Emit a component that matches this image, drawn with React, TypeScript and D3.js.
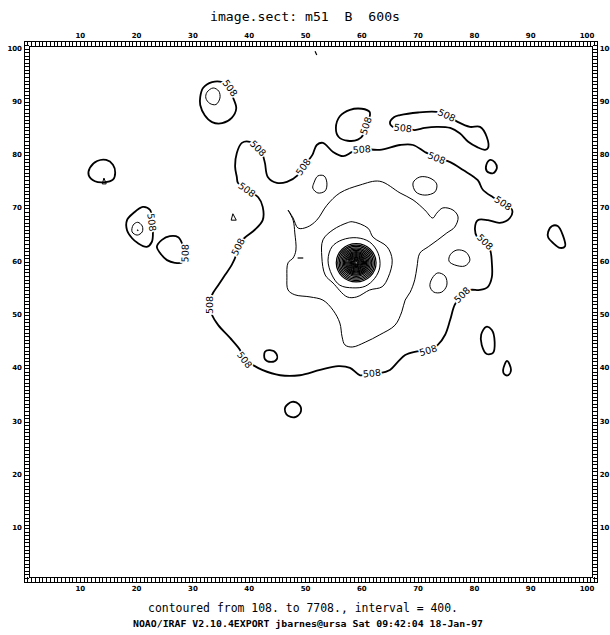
import React from "react";
import * as d3 from "d3";

const W = 610;
const H = 635;

const title = "image.sect: m51  B  600s";
const footer1 = "contoured from 108. to 7708., interval = 400.";
const footer2 = "NOAO/IRAF V2.10.4EXPORT jbarnes@ursa Sat 09:42:04 18-Jan-97";
const tickValues = [10, 20, 30, 40, 50, 60, 70, 80, 90, 100];
const levelLabel = "508";

// contour points in image pixels [col, row, hasLabel]
const outer508 = [
  [42.4, 67.7], [42.4, 70.2], [41.6, 72.0], [39.6, 73.4, 1], [38.0, 74.7], [37.8, 75.8],
  [37.5, 77.7], [37.8, 80.3], [38.7, 82.2], [40.1, 82.4], [41.6, 81.2, 1], [42.4, 79.9],
  [42.8, 78.4], [43.3, 75.8], [44.9, 74.7], [46.7, 74.9], [48.7, 76.2], [49.6, 77.7, 1],
  [51.2, 79.9], [52.0, 81.8], [53.1, 82.2], [54.9, 80.5], [56.7, 79.7], [58.3, 80.5],
  [60.0, 81.0, 1], [63.2, 80.9], [66.8, 81.8], [69.1, 81.8], [71.2, 80.5], [73.3, 79.4, 1],
  [75.7, 78.6], [78.0, 77.1], [80.6, 75.2], [81.5, 73.4], [83.3, 72.0], [85.1, 70.9, 1],
  [86.7, 69.6], [86.3, 68.1], [84.5, 67.2], [82.4, 67.7], [80.6, 67.7], [80.1, 66.2],
  [80.5, 64.5], [81.9, 63.6, 1], [82.8, 62.1], [83.1, 59.7], [83.1, 57.0], [82.4, 55.2],
  [81.0, 54.6], [79.2, 54.6], [77.8, 53.7, 1], [76.5, 51.8], [75.7, 49.0], [74.8, 46.2],
  [73.5, 44.3], [71.8, 43.3, 1], [69.4, 43.0], [67.7, 42.4], [66.4, 41.1], [65.0, 39.6],
  [63.2, 39.0], [61.8, 39.0, 1], [59.7, 38.6], [57.9, 40.0], [55.8, 40.3], [52.6, 39.6],
  [49.0, 38.6], [45.5, 38.6], [42.3, 39.6], [40.1, 40.9], [39.2, 41.5, 1], [38.4, 43.3],
  [36.6, 45.6], [34.5, 48.0], [33.4, 49.9], [33.0, 51.8, 1], [33.4, 53.7], [34.5, 55.5],
  [35.7, 57.4], [36.9, 59.3], [37.7, 61.2], [38.0, 62.7, 1], [39.2, 64.4], [41.0, 65.9],
];

const top508 = [
  [65.0, 85.9], [65.7, 87.0], [66.8, 87.4], [70.0, 87.9],
  [73.3, 88.0], [75.1, 87.4, 1], [77.1, 86.1], [79.2, 85.2], [81.0, 85.2], [82.2, 83.3],
  [82.4, 81.2], [81.9, 80.9], [80.5, 81.4], [78.9, 82.4], [77.4, 84.0], [75.7, 85.0],
  [73.3, 85.2], [71.2, 85.0], [69.4, 84.6], [67.3, 85.0, 1], [65.9, 85.0],
];
const topLeft508 = [
  [55.4, 85.0], [56.1, 87.2], [57.9, 88.4], [60.0, 88.6], [61.4, 88.0], [61.3, 86.7],
  [60.7, 85.4, 1], [60.4, 83.9], [59.3, 82.8], [57.5, 82.6], [55.9, 83.3],
];

const island508A = [
  [31.3, 90.8], [31.8, 92.5], [33.4, 93.6], [35.2, 93.6], [36.6, 92.5, 1], [37.1, 90.8],
  [37.7, 88.7], [36.9, 86.9], [35.2, 85.9], [33.4, 86.1], [32.1, 87.4], [31.3, 89.3],
];
const island508B = [
  [11.7, 77.5], [13.0, 78.8], [14.6, 79.0], [15.8, 78.1], [16.2, 76.6], [15.8, 75.3],
  [14.2, 74.8], [12.6, 75.0], [11.5, 76.1],
];
const island508C = [
  [19.4, 69.0], [21.1, 70.2], [22.4, 69.6], [22.7, 67.3, 1], [22.9, 65.5], [22.7, 63.6],
  [21.8, 62.7], [20.2, 63.4], [19.2, 64.3], [18.3, 65.8], [18.3, 67.7],
];
const island508D = [
  [24.5, 64.0], [25.9, 64.7], [27.4, 64.5], [28.2, 63.0], [28.6, 61.5, 1], [28.1, 59.8],
  [26.8, 59.7], [25.4, 60.2], [24.2, 61.5], [23.6, 62.7],
];
const island508E = [[82.1, 78.0], [82.8, 79.0], [83.6, 78.6], [84.0, 77.5], [83.3, 76.5], [82.2, 76.9]];
const island508F = [
  [93.1, 65.5], [93.8, 66.6], [94.8, 66.6], [95.7, 64.9], [96.1, 62.8], [95.2, 62.5],
  [94.0, 63.4], [93.1, 64.5],
];
const island508G = [[42.8, 43.0], [43.7, 43.3], [44.8, 42.7], [44.9, 41.6], [43.9, 41.1], [42.8, 41.6]];
const island508H = [[46.4, 32.6], [47.6, 33.6], [48.8, 33.2], [49.2, 31.9], [48.3, 30.8], [46.9, 31.0], [46.4, 31.7]];
const island508I = [[81.2, 46.2], [82.1, 47.7], [83.1, 47.1], [83.6, 44.8], [83.3, 42.8], [82.2, 42.6], [81.3, 44.3]];
const island508J = [[85.1, 39.6], [85.8, 41.3], [86.5, 39.6], [86.0, 38.6], [85.3, 38.8]];

const main908 = [
  [46.9, 69.6], [47.8, 67.7], [48.1, 65.3], [48.3, 62.1], [47.8, 60.6], [46.9, 59.7],
  [46.7, 57.0], [46.9, 54.6], [48.1, 53.7], [50.8, 53.3], [53.1, 52.7], [54.9, 50.8],
  [56.1, 48.4], [56.5, 45.8], [57.0, 44.3], [58.3, 43.9], [60.6, 44.8], [63.2, 46.2],
  [65.9, 48.0], [67.1, 50.5], [67.7, 52.7], [68.6, 54.2], [69.4, 56.5], [69.8, 58.9],
  [70.3, 61.5], [71.8, 62.7], [73.5, 64.0], [75.1, 65.3], [76.5, 66.4], [77.1, 68.3],
  [76.2, 69.6], [74.4, 70.0], [73.3, 69.0], [72.6, 68.1], [71.2, 69.6], [69.1, 71.5],
  [66.8, 72.8], [63.2, 75.0], [59.7, 74.3], [56.1, 72.8], [53.8, 70.5], [52.0, 67.7],
  [50.3, 66.4], [48.7, 66.2], [47.8, 68.1],
];
const island908A = [[51.5, 74.7], [52.2, 76.0], [53.3, 76.0], [53.8, 74.7], [53.5, 73.2], [52.2, 72.8], [51.3, 73.7]];
const island908B = [[69.1, 74.7], [70.3, 75.8], [72.1, 75.6], [73.3, 74.5], [73.0, 73.0], [71.2, 72.4], [69.6, 73.0]];
const island908C = [[75.7, 61.2], [76.9, 62.1], [78.5, 61.7], [79.2, 60.2], [78.3, 59.1], [76.5, 59.3], [75.5, 60.0]];
const island908D = [[72.1, 55.3], [72.5, 56.8], [73.5, 57.8], [74.8, 57.2], [75.1, 55.5], [74.2, 54.2], [72.8, 54.2]];
const inner1308 = [
  [58.3, 67.4], [61.1, 66.2], [62.0, 64.5], [64.5, 62.7], [65.4, 60.2], [64.7, 57.0],
  [63.6, 55.2], [61.4, 54.6], [59.1, 53.3], [57.4, 53.3], [54.9, 55.9], [53.5, 57.4],
  [52.9, 60.8], [53.1, 64.0], [54.9, 65.9], [57.4, 67.2],
];
const inner1708 = [
  [59.1, 64.4], [61.4, 63.6], [62.9, 61.5], [63.2, 58.9], [62.3, 56.8], [60.6, 55.3],
  [58.4, 55.0], [56.1, 55.5], [54.7, 57.4], [54.0, 60.2], [54.7, 62.7], [56.5, 64.0],
];
const innerSmallA = [[32.5, 91.7], [33.6, 92.5], [34.6, 91.9], [34.8, 90.6], [34.1, 89.4], [33.0, 89.6], [32.3, 90.6]];
const innerSmallB = [[19.4, 66.8], [20.2, 67.3], [21.0, 66.6], [21.0, 65.5], [20.1, 64.9], [19.2, 65.5]];
const tinyTriangles = [
  [[13.9, 74.5], [14.2, 75.6], [14.6, 74.5]],
  [[36.8, 67.7], [37.1, 68.9], [37.7, 67.7]],
];
const tinyDashes = [
  [[48.6, 60.6], [49.6, 60.6]],
  [[51.7, 99.4], [52.0, 98.7]],
  [[20.1, 65.9], [20.3, 65.7]],
];

// nucleus: concentric contours 2108 .. 7708
const nucleusCenter = [59.0, 59.7];
const nucleusRadii = [3.4, 3.15, 2.9, 2.66, 2.42, 2.2, 2.0, 1.8, 1.62, 1.45, 1.28, 1.12, 0.97, 0.82, 0.67, 0.52, 0.37, 0.22];

const thick508 = [outer508, top508, topLeft508, island508A, island508B, island508C, island508D, island508E,
  island508F, island508G, island508H, island508I, island508J];
const thinLines = [main908, island908A, island908B, island908C, island908D, inner1308, inner1708,
  innerSmallA, innerSmallB];

const x = d3.scaleLinear().domain([0, 100]).range([24, 587]);
const y = d3.scaleLinear().domain([0, 100]).range([581, 48]);

const xMin = 0, xMax = 101.9, yMin = -0.2, yMax = 101.3;
const ladder = 5;
const minorStep = 2 / 3;

const closedLine = d3.line<number[]>().x((d) => x(d[0])).y((d) => y(d[1])).curve(d3.curveCatmullRomClosed.alpha(0.5));
const openLine = d3.line<number[]>().x((d) => x(d[0])).y((d) => y(d[1]));

function labelsOf(pts: number[][]) {
  const out: { px: number; py: number; a: number }[] = [];
  pts.forEach((p, i) => {
    if (!p[2]) return;
    const prev = pts[(i - 1 + pts.length) % pts.length];
    const next = pts[(i + 1) % pts.length];
    let a = (Math.atan2(y(next[1]) - y(prev[1]), x(next[0]) - x(prev[0])) * 180) / Math.PI;
    if (a > 90) a -= 180;
    if (a < -90) a += 180;
    out.push({ px: x(p[0]), py: y(p[1]), a });
  });
  return out;
}

export default function App() {
  const left = x(xMin), right = x(xMax), top = y(yMax), bottom = y(yMin);
  const xr = d3.range(xMin, xMax, minorStep).map((v) => x(v));
  const yr = d3.range(yMin, yMax, minorStep).map((v) => y(v));
  const labels = thick508.flatMap(labelsOf);
  const rx = (r: number) => x(nucleusCenter[0] + r) - x(nucleusCenter[0]);

  return (
    <svg width={W} height={H} style={{ position: "absolute", left: 0, top: 0, background: "#fff" }}>
      <rect width={W} height={H} fill="#fff" />
      <text x={305} y={21} textAnchor="middle" fontFamily="DejaVu Sans Mono" fontSize={13} textLength={190} lengthAdjust="spacingAndGlyphs" style={{ whiteSpace: "pre" }}>
        {title}
      </text>

      {/* frame ladder */}
      <g stroke="#000" strokeWidth={1} fill="none" shapeRendering="crispEdges">
        <rect x={left} y={top} width={right - left} height={bottom - top} />
        <rect x={left + ladder} y={top + ladder} width={right - left - 2 * ladder} height={bottom - top - 2 * ladder} />
        {xr.map((v, i) => (
          <g key={"xr" + i}>
            <line x1={v} x2={v} y1={top} y2={top + ladder} />
            <line x1={v} x2={v} y1={bottom} y2={bottom - ladder} />
          </g>
        ))}
        {yr.map((v, i) => (
          <g key={"yr" + i}>
            <line y1={v} y2={v} x1={left} x2={left + ladder} />
            <line y1={v} y2={v} x1={right} x2={right - ladder} />
          </g>
        ))}
      </g>

      <g fontFamily="DejaVu Sans" fontSize={7} fontWeight="bold" fill="#000">
        {tickValues.map((t) => (
          <g key={"t" + t}>
            <text x={x(t)} y={top - 3} textAnchor="middle">{t}</text>
            <text x={x(t)} y={bottom + 9} textAnchor="middle">{t}</text>
            <text x={left - 2} y={y(t) + 2.5} textAnchor="end">{t}</text>
            <text x={right + 2} y={y(t) + 2.5} textAnchor="start">{t}</text>
          </g>
        ))}
      </g>

      <g fill="none" stroke="#000" strokeLinejoin="round">
        {thick508.map((c, i) => (
          <path key={"k" + i} d={closedLine(c) || ""} strokeWidth={1.8} />
        ))}
        {thinLines.map((c, i) => (
          <path key={"n" + i} d={closedLine(c) || ""} strokeWidth={1} />
        ))}
        {tinyTriangles.map((c, i) => (
          <path key={"tr" + i} d={(openLine(c) || "") + "Z"} strokeWidth={1} />
        ))}
        {tinyDashes.map((c, i) => (
          <path key={"ds" + i} d={openLine(c) || ""} strokeWidth={1.2} />
        ))}
        {nucleusRadii.map((r, i) => (
          <ellipse key={"nu" + i} cx={x(nucleusCenter[0])} cy={y(nucleusCenter[1])} rx={rx(r) * 1.04} ry={rx(r)} strokeWidth={1.2} />
        ))}
      </g>

      <g fontFamily="DejaVu Sans" fontSize={9.5} fill="#000" stroke="#fff" strokeWidth={3} style={{ paintOrder: "stroke" }}>
        {labels.map((l, i) => (
          <text key={"l" + i} x={l.px} y={l.py} textAnchor="middle" dominantBaseline="central" transform={`rotate(${l.a} ${l.px} ${l.py})`}>
            {levelLabel}
          </text>
        ))}
      </g>

      <text x={303} y={612} textAnchor="middle" fontFamily="DejaVu Sans Mono" fontSize={13} textLength={310} lengthAdjust="spacingAndGlyphs">
        {footer1}
      </text>
      <text x={308} y={627} textAnchor="middle" fontFamily="DejaVu Sans Mono" fontSize={9.5} fontWeight="bold" textLength={350} lengthAdjust="spacingAndGlyphs">
        {footer2}
      </text>
    </svg>
  );
}
